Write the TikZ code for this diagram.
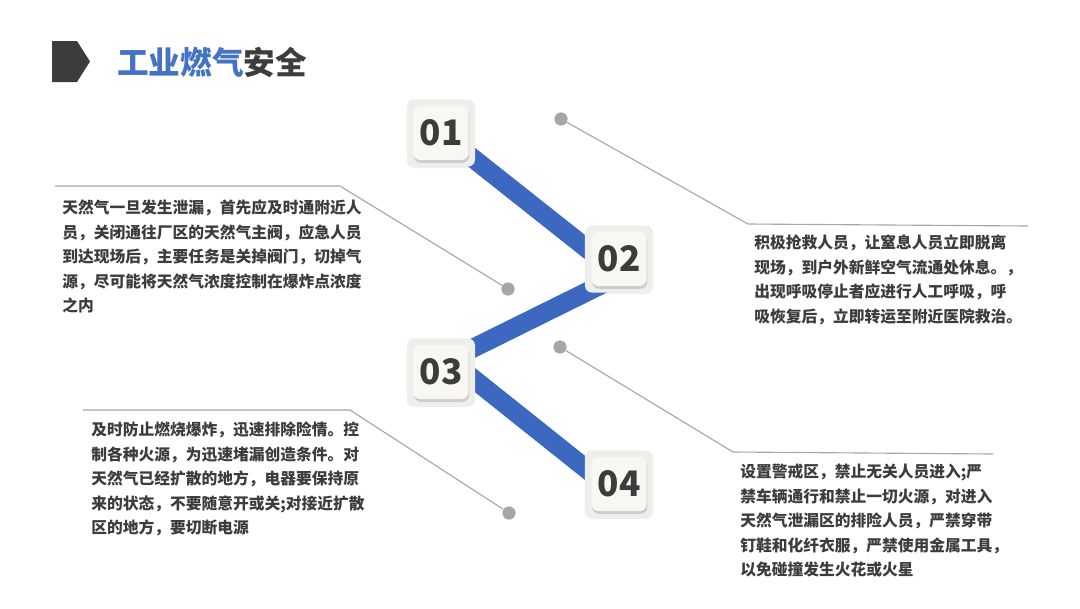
\documentclass[tikz,border=0pt]{standalone}
\usepackage{fontspec}
\setmainfont{Noto Sans CJK SC}
\usepackage{xcolor}
\usepackage{tikz}
\usetikzlibrary{backgrounds,calc,shadows}
\definecolor{titleblue}{RGB}{68,114,196}
\definecolor{bandblue}{RGB}{60,104,194}
\definecolor{inkgray}{RGB}{60,60,60}
\definecolor{leadgray}{RGB}{166,166,166}
\definecolor{boxbase}{RGB}{238,238,234}
\definecolor{boxface}{RGB}{248,247,241}

\begin{document}
\begin{tikzpicture}[
  x=0.025cm, y=-0.025cm,
  basebox/.style={fill=boxbase, rounded corners=5pt, minimum width=1.7cm, minimum height=1.68cm, drop shadow={opacity=0.12, shadow xshift=0pt, shadow yshift=-1pt}},
  numbox/.style={fill=boxface, rounded corners=5pt, minimum width=1.38cm, minimum height=1.35cm, inner sep=0pt, text=inkgray, font=\fontsize{25}{25}\selectfont\bfseries, drop shadow={opacity=0.3, shadow xshift=0.5pt, shadow yshift=-2pt}},
  band/.style={line width=13.5pt, draw=bandblue},
  leader/.style={draw=leadgray, line width=0.8pt},
  dot/.style={circle, fill=leadgray, minimum size=0.33cm, inner sep=0pt},
  note/.style={anchor=north west, align=left, inner sep=0pt, text=inkgray, font=\fontsize{11.2}{17.4}\selectfont\bfseries}
]
\useasboundingbox (0,0) rectangle (1080,608);

% title
\fill[inkgray] (52,41) -- (77,41) -- (90,61.5) -- (77,82) -- (52,82) -- cycle;
\node[anchor=west, inner sep=0pt, font=\fontsize{22.5}{22.5}\selectfont\bfseries] (title) at (117,62)
  {\textcolor{titleblue}{工业燃气}\textcolor{inkgray}{安全}};

% number boxes
\node[basebox] (b1) at (441,133) {};
\node[numbox] (n1) at (441,133) {01};
\node[basebox] (b2) at (619,259) {};
\node[numbox] (n2) at (619,259) {02};
\node[basebox] (b3) at (441,372) {};
\node[numbox] (n3) at (441,372) {03};
\node[basebox] (b4) at (619,484) {};
\node[numbox] (n4) at (619,484) {04};

% leader dots and bends
\node[dot] (d1) at (508,289) {};
\coordinate (k1) at (340,186);
\coordinate (e1) at (55,186);
\node[dot] (d2) at (561,119) {};
\coordinate (k2) at (748,224);
\coordinate (e2) at (1028,226);
\node[dot] (d3) at (509,513) {};
\coordinate (k3) at (350,410);
\coordinate (e3) at (83,410);
\node[dot] (d4) at (560,347) {};
\coordinate (k4) at (733,452);
\coordinate (e4) at (993,454);

\begin{scope}[on background layer]
\draw[leader] (e1) -- (k1) -- (d1);
\draw[leader] (d2) -- (k2) -- (e2);
\draw[leader] (e3) -- (k3) -- (d3);
\draw[leader] (d4) -- (k4) -- (e4);
\draw[band] (n1.center) -- ($(n2.center)+(0,15)$);
\draw[band] ($(n2.center)+(0,17)$) -- ($(n3.center)+(0,-8)$);
\draw[band] ($(n3.center)+(0,-19)$) -- ($(n4.center)+(0,11)$);
\end{scope}

% texts
\node[note] (t1) at (62,200)
  {天然气一旦发生泄漏，首先应及时通附近人\\
   员，关闭通往厂区的天然气主阀，应急人员\\
   到达现场后，主要任务是关掉阀门，切掉气\\
   源，尽可能将天然气浓度控制在爆炸点浓度\\
   之内};
\node[note] (t2) at (754,235)
  {积极抢救人员，让窒息人员立即脱离\\
   现场，到户外新鲜空气流通处休息。，\\
   出现呼吸停止者应进行人工呼吸，呼\\
   吸恢复后，立即转运至附近医院救治。};
\node[note] (t3) at (91,422)
  {及时防止燃烧爆炸，迅速排除险情。控\\
   制各种火源，为迅速堵漏创造条件。对\\
   天然气已经扩散的地方，电器要保持原\\
   来的状态，不要随意开或关;对接近扩散\\
   区的地方，要切断电源};
\node[note] (t4) at (740,464)
  {设置警戒区，禁止无关人员进入;严\\
   禁车辆通行和禁止一切火源，对进入\\
   天然气泄漏区的排险人员，严禁穿带\\
   钉鞋和化纤衣服，严禁使用金属工具，\\
   以免碰撞发生火花或火星};

\end{tikzpicture}
\end{document}
